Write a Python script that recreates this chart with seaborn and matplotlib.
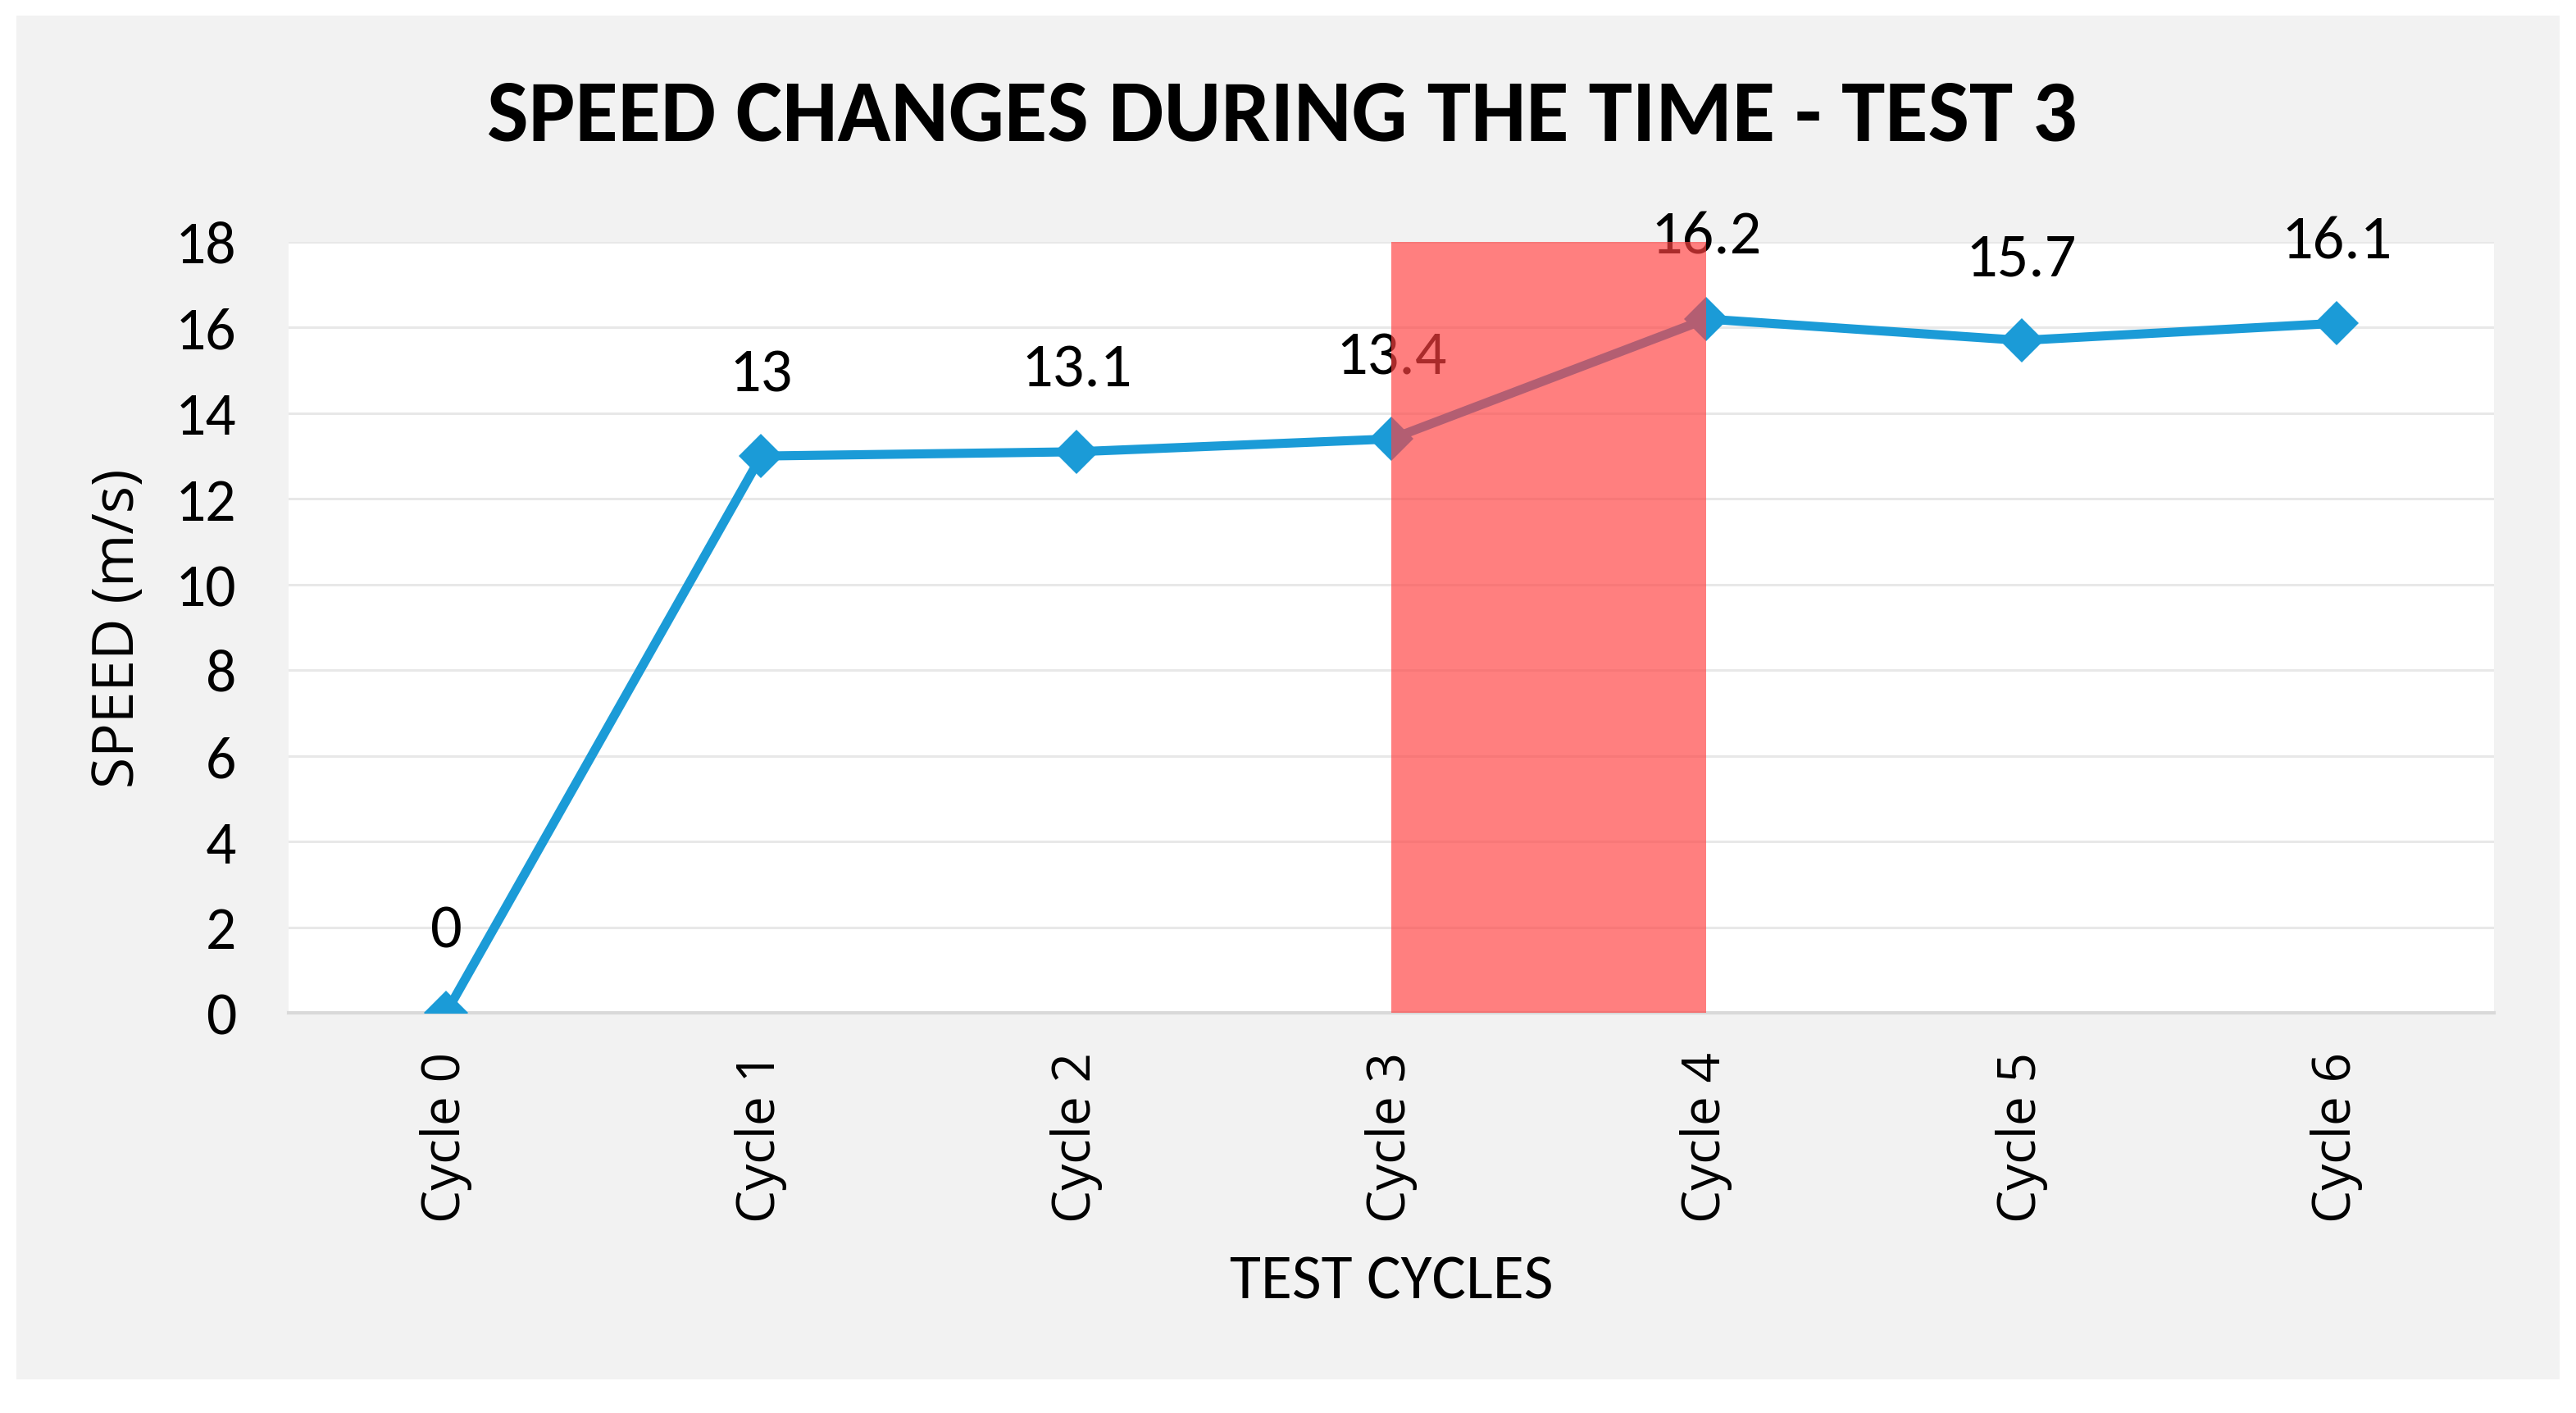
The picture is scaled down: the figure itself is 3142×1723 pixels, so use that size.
import matplotlib
matplotlib.use("Agg")
import matplotlib.pyplot as plt
from matplotlib import font_manager
import seaborn as sns

# datos
ciclos = ["Cycle 0", "Cycle 1", "Cycle 2", "Cycle 3", "Cycle 4", "Cycle 5", "Cycle 6"]
velocidad = [0, 13, 13.1, 13.4, 16.2, 15.7, 16.1]
etiquetas = ["0", "13", "13.1", "13.4", "16.2", "15.7", "16.1"]
zona_ini, zona_fin = "Cycle 3", "Cycle 4"
y_ticks = [0, 2, 4, 6, 8, 10, 12, 14, 16, 18]


def fuente(*nombres):
    # primera familia instalada de la lista
    for n in nombres:
        try:
            font_manager.findfont(font_manager.FontProperties(family=n), fallback_to_default=False)
            return n
        except Exception:
            continue
    return "DejaVu Sans"


CALIBRI = fuente("Carlito", "Roboto Condensed", "Liberation Sans")
ANCHA = fuente("Open Sans", "Noto Sans", "DejaVu Sans")

sns.set_style("white")
plt.rcParams.update({"text.color": "black", "axes.labelcolor": "black",
                     "xtick.color": "black", "ytick.color": "black"})

fig = plt.figure(figsize=(31.42, 17.24), dpi=100)
fig.patch.set_facecolor("white")
# panel gris de fondo
fig.patches.append(plt.Rectangle((20 / 3142, 1 - 1683 / 1724), 3102 / 3142, 1663 / 1724,
                                 transform=fig.transFigure, facecolor="#F2F2F2",
                                 edgecolor="none", zorder=-10))

ax = fig.add_axes([352 / 3142, 1 - 1236 / 1724, 2690 / 3142, 940 / 1724])
ax.set_facecolor("white")

sns.lineplot(x=ciclos, y=velocidad, sort=False, marker="D", markersize=27,
             color="#1B9BD7", linewidth=8, markeredgewidth=0, ax=ax, zorder=3)

# etiquetas de valores
for i, (v, t) in enumerate(zip(velocidad, etiquetas)):
    ax.annotate(t, (i, v), xytext=(0, 72), textcoords="offset points",
                ha="center", va="center", fontsize=55, family=CALIBRI, color="black", zorder=4)

# zona resaltada (encima de la linea y del texto)
ax.axvspan(ciclos.index(zona_ini), ciclos.index(zona_fin), ymin=0, ymax=1,
           color="#FF4141", alpha=0.67, lw=0, zorder=6)

ax.set_xlim(-0.5, len(ciclos) - 0.5)
ax.set_ylim(0, 18)
ax.set_yticks(y_ticks)
ax.set_yticklabels([str(t) for t in y_ticks], fontsize=53, family=CALIBRI)
ax.set_xticks(range(len(ciclos)))
ax.set_xticklabels(ciclos, rotation=90, fontsize=46, family=ANCHA)
ax.tick_params(axis="y", length=0, pad=46)
ax.tick_params(axis="x", length=0, pad=34)

ax.grid(axis="y", color="#E8E8E8", linewidth=2.2)
ax.set_axisbelow(True)
for s in ["left", "right", "top"]:
    ax.spines[s].set_visible(False)
ax.spines["bottom"].set_color("#D9D9D9")
ax.spines["bottom"].set_linewidth(3)
ax.spines["bottom"].set_zorder(2)

ax.set_xlabel("TEST CYCLES", fontsize=56, family=CALIBRI)
ax.set_ylabel("SPEED (m/s)", fontsize=50, family=ANCHA)
ax.xaxis.set_label_coords(0.5, -(1530 - 1236) / 940)
ax.yaxis.set_label_coords(-(352 - 180) / 2690, 0.5)

fig.text(1564 / 3142, 1 - 142 / 1724, "SPEED CHANGES DURING THE TIME - TEST 3",
         ha="center", va="center", fontsize=77, fontweight="bold", family=CALIBRI,
         color="black")

fig.savefig("out.png", dpi=100)
